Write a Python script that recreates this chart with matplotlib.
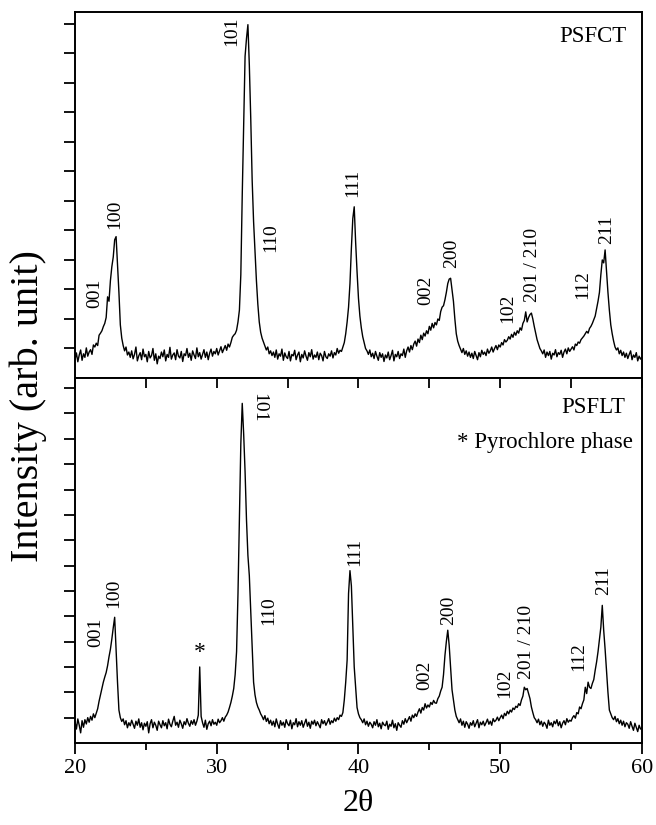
import numpy as np
import matplotlib
matplotlib.use("Agg")
import matplotlib.pyplot as plt

plt.rcParams['font.family'] = ['Liberation Serif', 'DejaVu Serif']

# 2-theta grid, 0.1 deg steps from 20 to 60
two_theta = np.linspace(20, 60, 401)

# PSFCT intensity (arb. unit), 10 points per degree
psfct = [
    0.62, 0.85, 0.55, 0.78, 0.95, 0.60, 0.82, 0.70, 1.02, 0.74,   # 20
    0.88, 0.96, 0.80, 1.12, 1.05, 1.18, 1.10, 1.45, 1.52, 1.60,   # 21
    1.74, 1.85, 2.05, 2.75, 2.60, 3.30, 3.77, 4.10, 4.68, 4.79,   # 22
    3.85, 2.90, 1.80, 1.35, 1.10, 0.92, 1.05, 0.78, 0.88, 0.70,   # 23
    0.92, 0.65, 0.80, 1.05, 0.58, 0.75, 0.86, 0.62, 0.98, 0.72,   # 24
    0.80, 0.55, 0.90, 0.68, 0.76, 1.00, 0.60, 0.82, 0.48, 0.74,   # 25
    0.66, 0.88, 0.72, 0.95, 0.58, 0.80, 0.70, 1.04, 0.64, 0.78,   # 26
    0.85, 0.62, 0.96, 0.74, 0.68, 0.90, 0.56, 0.82, 0.76, 1.00,   # 27
    0.70, 0.84, 0.60, 0.92, 0.78, 0.66, 1.02, 0.72, 0.86, 0.64,   # 28
    0.80, 0.96, 0.70, 0.88, 0.62, 0.84, 0.98, 0.74, 0.90, 0.82,   # 29
    1.00, 0.78, 0.92, 1.06, 0.86, 0.98, 1.10, 0.94, 1.15, 1.05,   # 30
    1.20, 1.38, 1.45, 1.50, 1.62, 1.90, 2.30, 3.50, 6.20, 8.50,   # 31
    10.90, 11.50, 11.97, 10.60, 8.80, 6.70, 5.30, 4.30, 3.30, 2.50,  # 32
    1.90, 1.55, 1.35, 1.22, 1.10, 0.95, 1.05, 0.82, 0.92, 0.76,   # 33
    0.88, 0.70, 0.95, 0.64, 0.82, 0.74, 0.98, 0.60, 0.85, 0.72,   # 34
    0.66, 0.90, 0.58, 0.80, 0.75, 0.94, 0.62, 0.78, 0.88, 0.55,   # 35
    0.80, 0.68, 0.92, 0.74, 0.60, 0.86, 0.72, 0.96, 0.64, 0.78,   # 36
    0.70, 0.88, 0.62, 0.84, 0.76, 0.58, 0.90, 0.72, 0.66, 0.82,   # 37
    0.74, 0.92, 0.68, 0.86, 0.78, 1.00, 0.84, 0.94, 0.90, 1.05,   # 38
    1.20, 1.50, 1.90, 2.40, 3.20, 4.40, 5.40, 5.80, 4.60, 3.60,   # 39
    2.70, 2.10, 1.70, 1.40, 1.20, 1.00, 0.92, 0.80, 0.95, 0.72,   # 40
    0.84, 0.66, 0.90, 0.74, 0.60, 0.86, 0.70, 0.82, 0.56, 0.78,   # 41
    0.68, 0.88, 0.62, 0.76, 0.94, 0.58, 0.80, 0.72, 0.90, 0.66,   # 42
    0.82, 0.76, 0.98, 0.70, 0.92, 1.05, 0.88, 1.10, 0.96, 1.15,   # 43
    1.25, 1.08, 1.32, 1.20, 1.45, 1.30, 1.52, 1.42, 1.60, 1.50,   # 44
    1.75, 1.62, 1.85, 1.70, 1.88, 1.80, 2.00, 1.95, 2.25, 2.40,   # 45
    2.45, 2.65, 2.90, 3.20, 3.35, 3.38, 3.00, 2.60, 2.00, 1.50,   # 46
    1.25, 1.10, 0.98, 0.86, 1.00, 0.80, 0.92, 0.74, 0.88, 0.70,   # 47
    0.84, 0.66, 0.90, 0.76, 0.62, 0.86, 0.72, 0.94, 0.80, 0.88,   # 48
    0.76, 0.98, 0.84, 0.92, 1.05, 0.88, 1.00, 1.10, 0.96, 1.12,   # 49
    1.05, 1.20, 1.12, 1.30, 1.22, 1.28, 1.40, 1.32, 1.48, 1.38,   # 50
    1.55, 1.45, 1.60, 1.52, 1.70, 1.62, 1.85, 1.95, 2.24, 1.90,   # 51
    2.05, 2.15, 2.20, 2.00, 1.75, 1.52, 1.30, 1.15, 1.00, 0.92,   # 52
    0.82, 0.95, 0.70, 0.88, 0.76, 0.90, 0.64, 0.84, 0.78, 0.96,   # 53
    0.72, 0.86, 0.80, 0.94, 0.70, 0.88, 0.98, 0.82, 1.02, 0.90,   # 54
    0.98, 1.06, 0.95, 1.15, 1.10, 1.22, 1.18, 1.30, 1.36, 1.42,   # 55
    1.50, 1.58, 1.52, 1.68, 1.75, 1.85, 1.97, 2.10, 2.35, 2.60,   # 56
    2.90, 3.50, 4.00, 3.90, 4.34, 3.60, 2.90, 2.30, 1.80, 1.50,   # 57
    1.25, 1.05, 0.95, 1.02, 0.82, 0.94, 0.76, 0.88, 0.70, 0.84,   # 58
    0.66, 0.80, 0.92, 0.62, 0.78, 0.70, 0.86, 0.58, 0.74, 0.64,   # 59
    0.72,                                                         # 60
]

# PSFLT intensity (arb. unit), lower panel
psflt = [
    0.85, 0.55, 0.95, 0.70, 0.40, 0.88, 0.62, 0.92, 0.75, 1.00,   # 20
    0.82, 1.05, 0.90, 1.15, 1.00, 1.18, 1.35, 1.65, 1.90, 2.15,   # 21
    2.40, 2.60, 2.78, 3.05, 3.40, 3.70, 4.10, 4.55, 4.96, 3.70,   # 22
    2.40, 1.30, 1.00, 0.85, 0.95, 0.72, 0.88, 0.60, 0.80, 0.68,   # 23
    0.90, 0.74, 0.58, 0.86, 0.70, 0.95, 0.62, 0.80, 0.52, 0.78,   # 24
    0.66, 0.84, 0.40, 0.76, 0.92, 0.60, 0.82, 0.70, 0.50, 0.86,   # 25
    0.72, 0.60, 0.88, 0.68, 0.80, 0.56, 0.94, 0.74, 0.64, 0.86,   # 26
    1.05, 0.70, 0.82, 0.62, 0.90, 0.76, 0.58, 0.84, 0.72, 0.96,   # 27
    0.78, 0.66, 0.88, 0.74, 0.92, 0.70, 0.86, 1.10, 3.00, 1.05,   # 28
    0.80, 0.62, 0.90, 0.54, 0.76, 0.86, 0.68, 0.92, 0.74, 0.82,   # 29
    0.70, 0.94, 0.80, 0.88, 1.00, 0.86, 1.02, 1.10, 1.22, 1.40,   # 30
    1.60, 1.85, 2.15, 2.70, 3.60, 5.90, 8.80, 11.80, 13.40, 12.20,  # 31
    10.70, 8.80, 7.40, 6.60, 5.20, 3.90, 2.40, 1.90, 1.60, 1.42,  # 32
    1.30, 1.15, 1.05, 0.92, 1.08, 0.85, 0.98, 0.76, 0.90, 0.70,   # 33
    0.86, 0.64, 0.95, 0.74, 0.58, 0.88, 0.70, 0.82, 0.62, 0.92,   # 34
    0.76, 0.68, 0.90, 0.56, 0.80, 0.72, 0.96, 0.64, 0.84, 0.70,   # 35
    0.88, 0.62, 0.78, 0.94, 0.66, 0.82, 0.58, 0.86, 0.74, 0.90,   # 36
    0.68, 0.84, 0.72, 0.60, 0.92, 0.76, 0.88, 0.70, 0.82, 0.96,   # 37
    0.74, 0.88, 0.80, 0.98, 0.86, 1.00, 0.92, 1.10, 1.05, 1.20,   # 38
    1.70, 2.40, 3.27, 5.90, 6.80, 6.20, 4.57, 3.00, 2.20, 1.40,   # 39
    1.15, 1.00, 0.92, 0.80, 0.95, 0.72, 0.86, 0.66, 0.82, 0.74,   # 40
    0.60, 0.84, 0.70, 0.92, 0.64, 0.78, 0.56, 0.82, 0.72, 0.68,   # 41
    0.86, 0.54, 0.74, 0.66, 0.90, 0.60, 0.76, 0.50, 0.80, 0.70,   # 42
    0.62, 0.88, 0.74, 0.96, 0.80, 0.92, 1.04, 0.86, 1.10, 1.00,   # 43
    1.15, 1.05, 1.22, 1.35, 1.18, 1.40, 1.30, 1.55, 1.38, 1.50,   # 44
    1.42, 1.60, 1.52, 1.68, 1.58, 1.57, 1.75, 1.85, 2.05, 2.20,   # 45
    2.70, 3.45, 4.00, 4.45, 3.85, 3.00, 2.10, 1.70, 1.30, 1.05,   # 46
    0.92, 0.80, 0.95, 0.70, 0.86, 0.62, 0.84, 0.74, 0.58, 0.80,   # 47
    0.70, 0.88, 0.64, 0.78, 0.92, 0.60, 0.82, 0.72, 0.86, 0.68,   # 48
    0.80, 0.94, 0.74, 0.86, 0.70, 0.96, 0.84, 0.90, 1.02, 0.88,   # 49
    1.00, 1.10, 0.96, 1.17, 1.08, 1.25, 1.15, 1.30, 1.22, 1.38,   # 50
    1.32, 1.45, 1.40, 1.55, 1.48, 1.70, 1.85, 2.20, 2.10, 2.15,   # 51
    1.95, 1.75, 1.42, 1.20, 1.00, 0.92, 0.80, 0.94, 0.72, 0.86,   # 52
    0.66, 0.82, 0.74, 0.58, 0.90, 0.70, 0.80, 0.64, 0.86, 0.76,   # 53
    0.92, 0.68, 0.84, 0.60, 0.78, 0.88, 0.72, 0.96, 0.82, 0.90,   # 54
    0.86, 1.00, 1.08, 0.98, 1.20, 1.15, 1.42, 1.35, 1.55, 1.70,   # 55
    2.20, 1.95, 2.40, 2.20, 2.15, 2.35, 2.50, 2.87, 3.20, 3.60,   # 56
    4.10, 4.57, 5.43, 4.45, 3.70, 2.87, 2.00, 1.30, 1.15, 1.00,   # 57
    0.92, 1.05, 0.84, 0.96, 0.76, 0.90, 0.70, 0.86, 0.64, 0.80,   # 58
    0.74, 0.58, 0.84, 0.66, 0.50, 0.78, 0.62, 0.45, 0.70, 0.55,   # 59
    0.60,                                                         # 60
]

# reflection labels: text, 2theta, height
top_labels = ['001', '100', '101', '110', '111', '002', '200', '102', '201 / 210', '112', '211']
top_lx = [21.41, 22.82, 31.08, 33.83, 39.62, 44.77, 46.58, 50.56, 52.30, 55.85, 57.52]
top_ly = [2.88, 5.53, 11.73, 4.75, 6.61, 2.98, 4.24, 2.37, 3.83, 3.15, 5.02]

bot_labels = ['001', '100', '101', '110', '111', '002', '200', '102', '201 / 210', '112', '211']
bot_lx = [21.48, 22.75, 32.94, 33.64, 39.76, 44.70, 46.35, 50.35, 51.88, 55.52, 57.28]
bot_ly = [4.37, 5.91, 13.24, 5.24, 7.53, 2.68, 5.24, 2.36, 3.99, 3.40, 6.42]

fig = plt.figure(figsize=(6.56, 8.25), dpi=100)
ax1 = fig.add_axes([0.1143, 0.5418, 0.8643, 0.4437])
ax2 = fig.add_axes([0.1143, 0.0994, 0.8643, 0.4424])

for ax in (ax1, ax2):
    for s in ax.spines.values():
        s.set_linewidth(1.4)
    ax.set_xlim(20, 60)
    ax.tick_params(axis='y', direction='out', length=8, width=1.3, labelleft=False)

ax1.plot(two_theta, psfct, color='black', lw=1.0)
ax1.set_ylim(0, 12.4)
ax1.set_yticks(range(1, 13))
ax1.set_xticks([])

ax2.plot(two_theta, psflt, color='black', lw=1.0)
ax2.set_ylim(0, 14.4)
ax2.set_yticks(range(1, 15))
ax2.set_xticks([20, 30, 40, 50, 60])
ax2.set_xticks([25, 35, 45, 55], minor=True)
ax2.tick_params(axis='x', which='major', direction='out', length=8, width=1.3,
                labelsize=16, top=True)
ax2.tick_params(axis='x', which='minor', direction='out', length=5, width=1.3, top=True)
# top-side ticks point into the lower panel
for t in ax2.xaxis.get_major_ticks() + ax2.xaxis.get_minor_ticks():
    t.tick2line.set_marker(3)
    t.tick2line.set_markersize(7)

for lab, x, y in zip(top_labels, top_lx, top_ly):
    ax1.text(x, y, lab, rotation=90, ha='center', va='center', fontsize=14)
for lab, x, y in zip(bot_labels, bot_lx, bot_ly):
    rot = 270 if lab == '101' else 90
    ax2.text(x, y, lab, rotation=rot, ha='center', va='center', fontsize=14)
ax2.text(28.77, 3.56, '*', ha='center', va='center', fontsize=17)

ax1.text(58.93, 11.56, 'PSFCT', ha='right', va='center', fontsize=16.5)
ax2.text(58.81, 13.23, 'PSFLT', ha='right', va='center', fontsize=16.5)
ax2.text(59.38, 11.85, '* Pyrochlore phase', ha='right', va='center', fontsize=16.5)

ax2.set_xlabel('2θ', fontsize=23, labelpad=8)
fig.text(0.043, 0.508, 'Intensity (arb. unit)', rotation=90, ha='center', va='center',
         fontsize=29)

fig.savefig('out.png', dpi=100)
